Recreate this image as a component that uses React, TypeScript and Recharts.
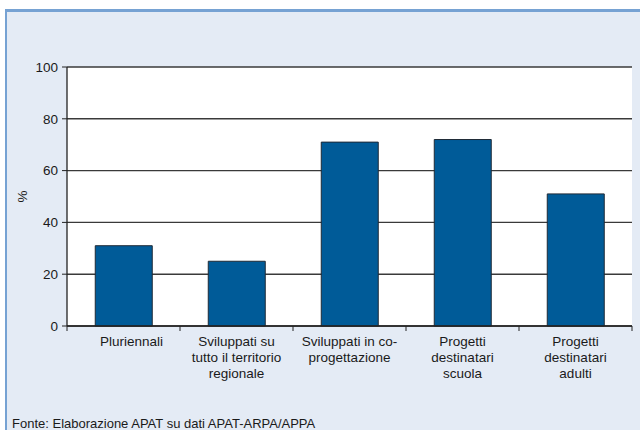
import React from "react";
import { BarChart, Bar, XAxis, YAxis, CartesianGrid, Label } from "recharts";

const categories: string[][] = [
  ["Pluriennali"],
  ["Sviluppati su", "tutto il territorio", "regionale"],
  ["Sviluppati in co-", "progettazione"],
  ["Progetti", "destinatari", "scuola"],
  ["Progetti", "destinatari", "adulti"],
];
const values: number[] = [31, 25, 71, 72, 51];
const yTicks: number[] = [0, 20, 40, 60, 80, 100];
const yLabel = "%";
const source = "Fonte: Elaborazione APAT su dati APAT-ARPA/APPA";

const data = categories.map((c, i) => ({ name: c.join("\n"), value: values[i] }));

const FONT = "'Liberation Sans', Arial, sans-serif";
const W = 640;
const H = 430;
const M = { top: 67, right: 8, left: 0, bottom: 44 };
const Y_W = 67;
const X_H = 60;
const BAND = (W - M.left - M.right - Y_W) / categories.length;

const XTick = (props: any) => {
  const { x, y, payload, index } = props;
  const lines: string[] = String(payload.value).split("\n");
  const last = index === categories.length - 1;
  const dx = index === 0 ? 8 : 0;
  return (
    <g>
      <line x1={x - BAND / 2} x2={x - BAND / 2} y1={y} y2={y + 5} stroke="#222" strokeWidth={1} />
      {last && <line x1={x + BAND / 2} x2={x + BAND / 2} y1={y} y2={y + 5} stroke="#222" strokeWidth={1} />}
      <text x={x + dx} y={y + 20} textAnchor="middle" fontSize={13.5} fill="#1a1a1a" fontFamily={FONT}>
        {lines.map((l, i) => (
          <tspan key={i} x={x + dx} dy={i === 0 ? 0 : 16}>
            {l}
          </tspan>
        ))}
      </text>
    </g>
  );
};

export default function App() {
  return (
    <div style={{ position: "absolute", left: 0, top: 0, width: W, height: H, background: "#fff", overflow: "hidden" }}>
      <div
        style={{
          position: "absolute",
          left: 5,
          top: 9,
          width: W,
          height: H,
          background: "#e4ebf5",
          borderTop: "3px solid #76a2d3",
          borderLeft: "2px solid #76a2d3",
        }}
      />
      <div style={{ position: "absolute", left: 0, top: 0 }}>
        <BarChart width={W} height={H} data={data} margin={M} barCategoryGap="25%">
          <CartesianGrid vertical={false} stroke="#3a3a3a" strokeWidth={1.4} fill="#fff" fillOpacity={1} />
          <XAxis
            dataKey="name"
            interval={0}
            tickLine={false}
            tickSize={0}
            tickMargin={0}
            axisLine={{ stroke: "#222", strokeWidth: 1.3 }}
            height={X_H}
            tick={<XTick />}
          />
          <YAxis
            domain={[0, 100]}
            ticks={yTicks}
            width={Y_W}
            tickSize={5}
            tickMargin={4}
            interval={0}
            axisLine={{ stroke: "#222", strokeWidth: 1.3 }}
            tickLine={{ stroke: "#222" }}
            tick={{ fontSize: 13.5, fill: "#1a1a1a", fontFamily: FONT }}
          >
            <Label
              value={yLabel}
              angle={-90}
              position="insideLeft"
              offset={22}
              style={{ fontSize: 13.5, fill: "#1a1a1a", fontFamily: FONT, textAnchor: "middle" }}
            />
          </YAxis>
          <Bar dataKey="value" fill="#005b98" stroke="#1f2a36" strokeWidth={1} isAnimationActive={false} />
          <text x={12} y={428} fontSize={13} fill="#1a1a1a" fontFamily={FONT}>
            {source}
          </text>
        </BarChart>
      </div>
    </div>
  );
}
